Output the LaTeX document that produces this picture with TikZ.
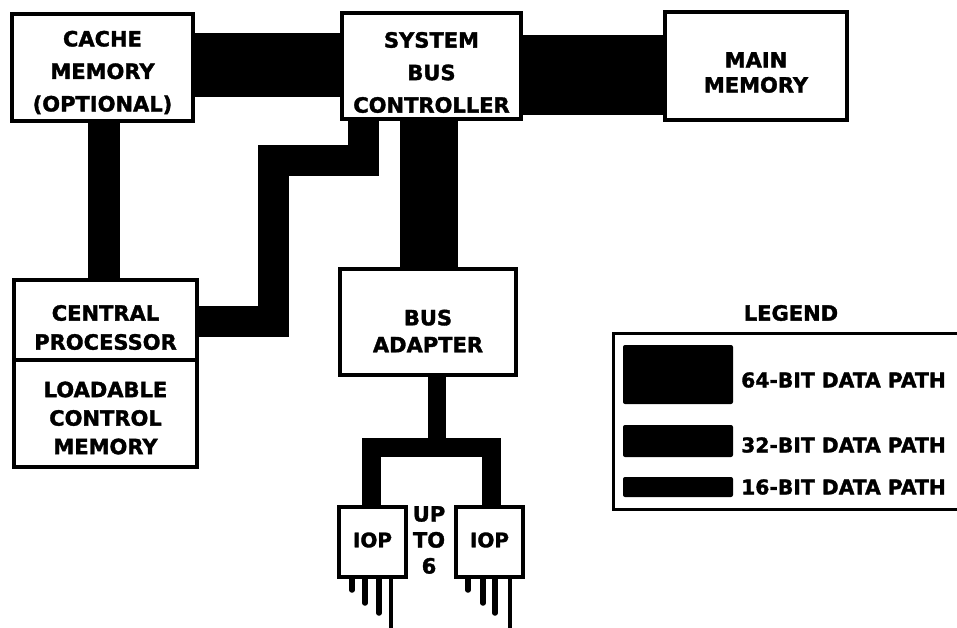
\documentclass[tikz,border=0pt]{standalone}
\usepackage{fontspec}
\setmainfont{DejaVu Sans}[BoldFeatures={FakeBold=1.6}]
\begin{document}
\begin{tikzpicture}[x=1pt,y=-1pt,
  box/.style={draw,line width=4pt,fill=white,inner sep=0pt},
  txt/.style={align=center,inner sep=0pt,font=\fontsize{21}{#1}\selectfont\bfseries},
  legtxt/.style={inner sep=0pt,anchor=west,font=\fontsize{20.3}{24}\selectfont\bfseries},
  bus/.style={draw,line width=#1,line join=miter,line cap=butt},
  pin/.style={line width=#1,line cap=round},
  swatch/.style={fill=black,rounded corners=2pt,inner sep=0pt,minimum width=110pt}]
\useasboundingbox (0,0) rectangle (957,627);
\clip (0,0) rectangle (957,627);
% boxes
\node[box,minimum width=181pt,minimum height=107pt] (cache) at (102.5,67.5) {};
\node[txt=32.5] (cachet) at ([yshift=-5pt]cache.center) {CACHE\\MEMORY\\(OPTIONAL)};
\node[box,minimum width=179pt,minimum height=106pt] (sbc) at (431.5,66) {};
\node[txt=32.5] (sbct) at ([yshift=-6.5pt]sbc.center) {SYSTEM\\BUS\\CONTROLLER};
\node[box,minimum width=182pt,minimum height=108pt] (mm) at (756,66) {};
\node[txt=25] (mmt) at ([yshift=-6.5pt]mm.center) {MAIN\\MEMORY};
\node[box,minimum width=183pt,minimum height=80pt] (cp) at (105.5,320) {};
\node[txt=29] (cpt) at ([yshift=-7.5pt]cp.center) {CENTRAL\\PROCESSOR};
\node[box,minimum width=183pt,minimum height=107pt] (lcm) at (105.5,413.5) {};
\node[txt=28.5] (lcmt) at ([yshift=-4.5pt]lcm.center) {LOADABLE\\CONTROL\\MEMORY};
\node[box,minimum width=176pt,minimum height=106pt] (ba) at (428,322) {};
\node[txt=27] (bat) at ([yshift=-9pt]ba.center) {BUS\\ADAPTER};
\node[box,minimum width=67pt,minimum height=70pt] (iop1) at (372.5,542) {};
\node[txt=24,font=\fontsize{20}{24}\selectfont\bfseries] (iop1t) at ([yshift=2pt]iop1.center) {IOP};
\node[box,minimum width=67pt,minimum height=70pt] (iop2) at (489.5,542) {};
\node[txt=24,font=\fontsize{20}{24}\selectfont\bfseries] (iop2t) at ([yshift=2pt]iop2.center) {IOP};
\node[txt=26] (upto) at (429,540) {UP\\TO\\6};
% data paths
\draw[bus=64pt] ([yshift=2.5pt]cache.east) -- ([yshift=2.5pt]cache.east -| sbc.west);
\draw[bus=80pt] ([yshift=-9pt]sbc.east) -- ([yshift=-9pt]sbc.east -| mm.west);
\draw[bus=32pt] ([xshift=1.5pt]cache.south) -- ([xshift=1.5pt]cache.south |- cp.north);
\draw[bus=58pt] ([xshift=1pt]ba.north |- sbc.south) -- ([xshift=1pt]ba.north);
\coordinate (k1) at (363,160);
\coordinate (k2) at (273,321);
\draw[bus=31pt] (sbc.south -| k1) -- (k1) -| (k2) -- (k2 -| cp.east);
\coordinate (split) at (437,447.5);
\draw[bus=18pt] (ba.south -| split) -- (split);
\draw[bus=19pt] ([xshift=-1pt]iop1.north) |- (split) -| ([xshift=2pt]iop2.north);
% pins
\foreach \dx/\len/\w in {-20.5/11/5.5pt,-7.5/24/5.5pt,6.5/34/5.5pt,18.5/55/4.5pt}
  \draw[pin=\w] ([xshift=\dx pt]iop1.south) -- ++(0,\len);
\foreach \dx/\len/\w in {-21.5/11/5.5pt,-6.5/24/5.5pt,5.5/34/5.5pt,20.5/55/4.5pt}
  \draw[pin=\w] ([xshift=\dx pt]iop2.south) -- ++(0,\len);
% legend
\node[txt=24] (legt) at (791,313) {LEGEND};
\node[draw,line width=3pt,inner sep=0pt,minimum width=354pt,minimum height=176pt] (legbox) at (790,421) {};
\node[swatch,minimum height=59pt] (s64) at (678,374.5) {};
\node[swatch,minimum height=32pt] (s32) at (678,441) {};
\node[swatch,minimum height=20pt] (s16) at (678,487) {};
\node[legtxt] (l64) at (741,380) {64-BIT DATA PATH};
\node[legtxt] (l32) at (741,445) {32-BIT DATA PATH};
\node[legtxt] (l16) at (741,487) {16-BIT DATA PATH};
\end{tikzpicture}
\end{document}
